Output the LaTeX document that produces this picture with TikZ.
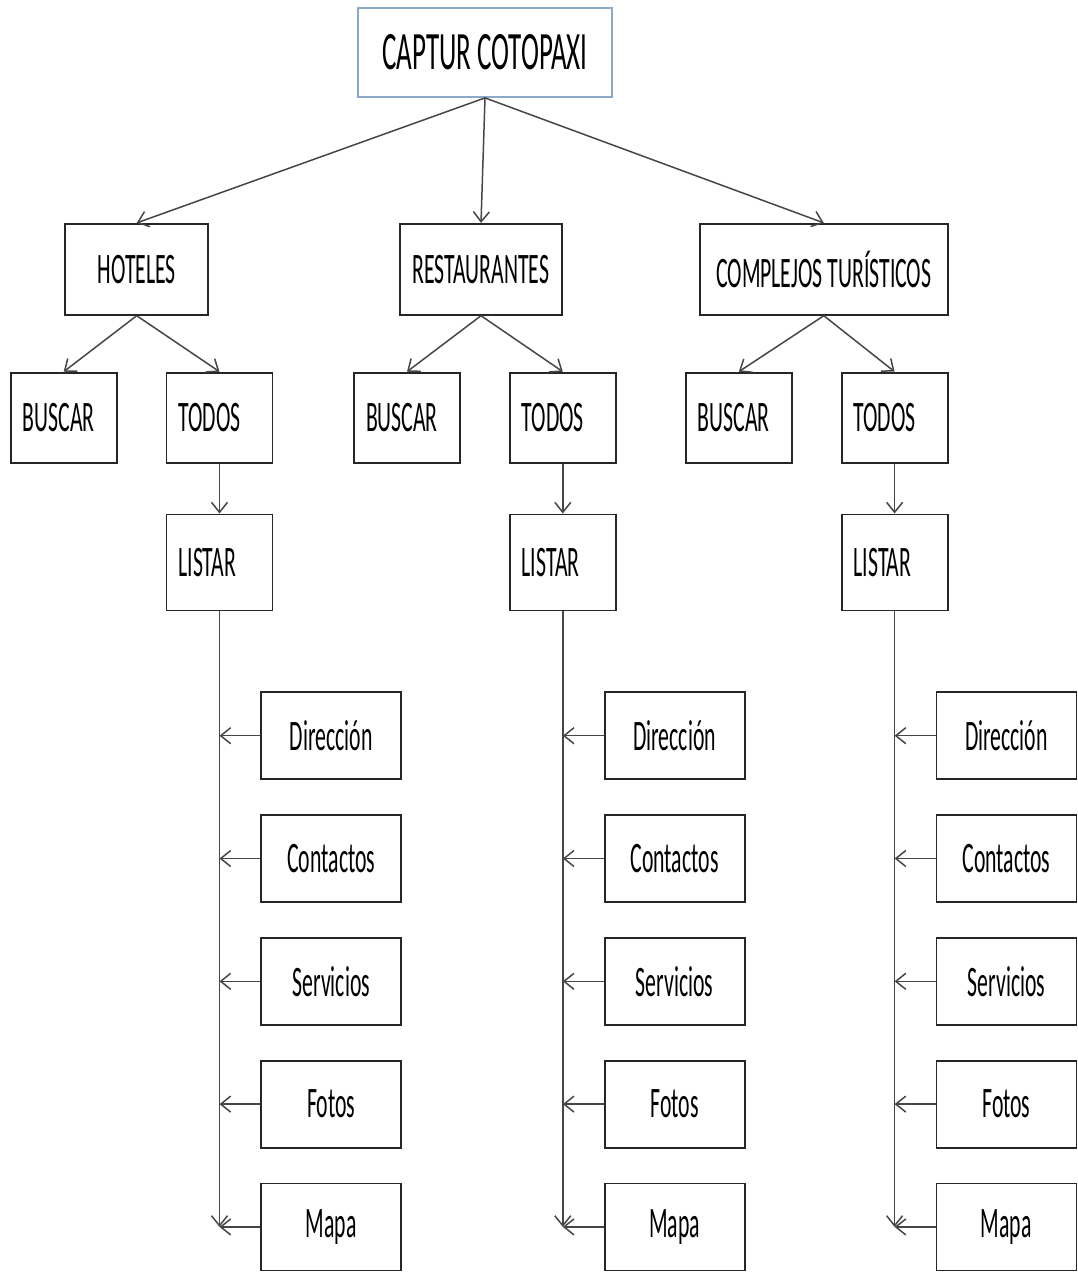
\documentclass[tikz,border=0pt]{standalone}
\usepackage{fontspec}
\setmainfont{Carlito}[FakeStretch=0.5]
\usetikzlibrary{positioning,arrows.meta}
\definecolor{topline}{RGB}{140,170,200}
\definecolor{linegray}{RGB}{70,70,70}

\begin{document}
\begin{tikzpicture}[x=0.5pt, y=0.5pt,
        box/.style={rectangle, draw=black!85, line width=0.9pt, inner sep=0pt},
        titlebox/.style={box, draw=topline, minimum width=127pt, minimum height=44.5pt, font=\fontsize{27}{30}\selectfont},
        catbox/.style={box, minimum height=45.5pt, font=\fontsize{21.75}{24}\selectfont},
        smallbox/.style={box, text width=41pt, inner xsep=6pt, align=left, minimum height=45pt, font=\fontsize{21.75}{24}\selectfont},
        leafbox/.style={box, minimum width=70pt, minimum height=43.5pt, font=\fontsize{21.75}{24}\selectfont},
        arrow/.style={->, >={Straight Barb[length=5pt, width=8pt]}, draw=linegray, line width=0.75pt}]

        \useasboundingbox (0,0) rectangle (1077,-1285);

        \node[titlebox] (captur) at (485,-52.5) {CAPTUR COTOPAXI};
        \node[catbox, minimum width=81pt, below=62.5pt of captur, xshift=-2pt] (rest) {RESTAURANTES};
        \node[catbox, minimum width=71.5pt, left=95pt of rest] (hot) {HOTELES};
        \node[catbox, minimum width=124pt, right=68pt of rest] (comp) {COMPLEJOS TURÍSTICOS};

        % hoteles
        \node[smallbox, below=28pt of hot, xshift=-36.5pt] (hbuscar) {BUSCAR};
        \node[smallbox, right=24pt of hbuscar] (htodos) {TODOS};
        \node[smallbox, minimum height=48pt, below=25pt of htodos] (hlistar) {LISTAR};
        \node[leafbox, below right=40pt and -6.5pt of hlistar] (hdir) {Dirección};
        \node[leafbox, below=17pt of hdir] (hcon) {Contactos};
        \node[leafbox, below=17pt of hcon] (hser) {Servicios};
        \node[leafbox, below=17pt of hser] (hfot) {Fotos};
        \node[leafbox, below=17pt of hfot] (hmapa) {Mapa};

        % restaurantes
        \node[smallbox, below=28pt of rest, xshift=-37pt] (rbuscar) {BUSCAR};
        \node[smallbox, right=24pt of rbuscar] (rtodos) {TODOS};
        \node[smallbox, minimum height=48pt, below=25pt of rtodos] (rlistar) {LISTAR};
        \node[leafbox, below right=40pt and -6.5pt of rlistar] (rdir) {Dirección};
        \node[leafbox, below=17pt of rdir] (rcon) {Contactos};
        \node[leafbox, below=17pt of rcon] (rser) {Servicios};
        \node[leafbox, below=17pt of rser] (rfot) {Fotos};
        \node[leafbox, below=17pt of rfot] (rmapa) {Mapa};

        % complejos
        \node[smallbox, below=28pt of comp, xshift=-42.5pt] (cbuscar) {BUSCAR};
        \node[smallbox, right=24pt of cbuscar] (ctodos) {TODOS};
        \node[smallbox, minimum height=48pt, below=25pt of ctodos] (clistar) {LISTAR};
        \node[leafbox, below right=40pt and -6.5pt of clistar] (cdir) {Dirección};
        \node[leafbox, below=17pt of cdir] (ccon) {Contactos};
        \node[leafbox, below=17pt of ccon] (cser) {Servicios};
        \node[leafbox, below=17pt of cser] (cfot) {Fotos};
        \node[leafbox, below=17pt of cfot] (cmapa) {Mapa};

        \draw[arrow] (captur.south) -- (hot.north);
        \draw[arrow] (captur.south) -- (rest.north);
        \draw[arrow] (captur.south) -- (comp.north);

        \draw[arrow] (hot.south) -- (hbuscar.north);
        \draw[arrow] (hot.south) -- (htodos.north);
        \draw[arrow] (htodos) -- (hlistar);
        \draw[arrow] (hlistar) -- (hlistar |- hmapa.west);
        \draw[arrow] (hdir) -- (hdir -| hlistar);
        \draw[arrow] (hcon) -- (hcon -| hlistar);
        \draw[arrow] (hser) -- (hser -| hlistar);
        \draw[arrow] (hfot) -- (hfot -| hlistar);
        \draw[arrow] (hmapa) -- (hmapa -| hlistar);

        \draw[arrow] (rest.south) -- (rbuscar.north);
        \draw[arrow] (rest.south) -- (rtodos.north);
        \draw[arrow] (rtodos) -- (rlistar);
        \draw[arrow] (rlistar) -- (rlistar |- rmapa.west);
        \draw[arrow] (rdir) -- (rdir -| rlistar);
        \draw[arrow] (rcon) -- (rcon -| rlistar);
        \draw[arrow] (rser) -- (rser -| rlistar);
        \draw[arrow] (rfot) -- (rfot -| rlistar);
        \draw[arrow] (rmapa) -- (rmapa -| rlistar);

        \draw[arrow] (comp.south) -- (cbuscar.north);
        \draw[arrow] (comp.south) -- (ctodos.north);
        \draw[arrow] (ctodos) -- (clistar);
        \draw[arrow] (clistar) -- (clistar |- cmapa.west);
        \draw[arrow] (cdir) -- (cdir -| clistar);
        \draw[arrow] (ccon) -- (ccon -| clistar);
        \draw[arrow] (cser) -- (cser -| clistar);
        \draw[arrow] (cfot) -- (cfot -| clistar);
        \draw[arrow] (cmapa) -- (cmapa -| clistar);
    \end{tikzpicture}
\end{document}
